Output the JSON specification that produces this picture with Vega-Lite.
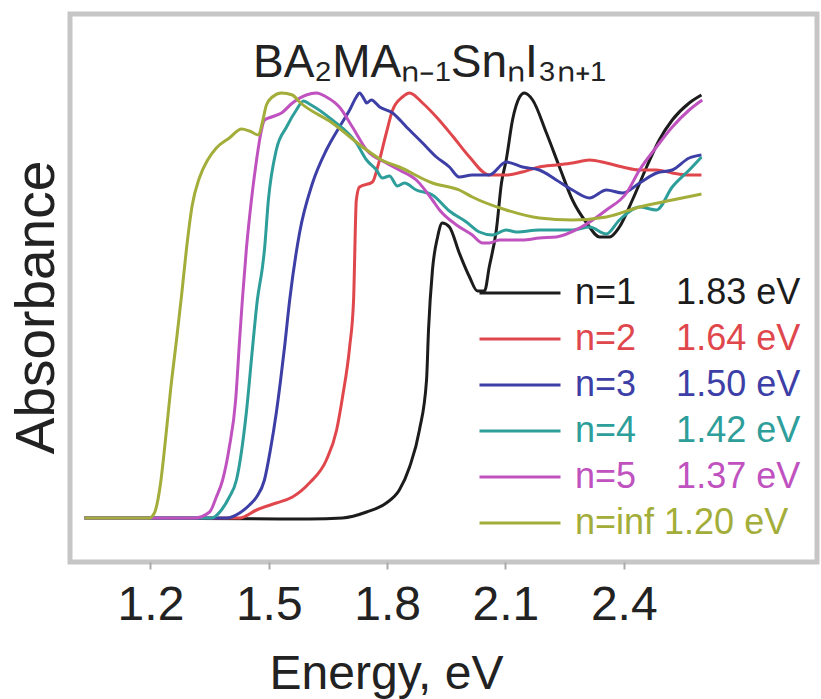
{
  "$schema": "https://vega.github.io/schema/vega-lite/v6.json",
  "width": 747,
  "height": 548,
  "autosize": {"type": "none"},
  "padding": {"left": 70, "top": 14, "right": 4, "bottom": 137},
  "background": "white",
  "config": {"view": {"stroke": "#c6c6c6", "strokeWidth": 5}, "font": "Liberation Sans"},
  "title": {
    "text": "BA\u2082MA\u2099\u208b\u2081Sn\u2099I\u2083\u2099\u208a\u2081",
    "fontSize": 46, "font": "Liberation Sans", "fontWeight": "normal", "color": "#222222",
    "anchor": "middle", "frame": "group", "offset": 0, "baseline": "alphabetic", "dy": 109, "dx": -14
  },
  "data": {"values": [
    {"n":"1","E":1.033,"A":0.088},{"n":"1","E":1.603,"A":0.086},{"n":"1","E":1.687,"A":0.088},{"n":"1","E":1.748,"A":0.100},{"n":"1","E":1.798,"A":0.118},{"n":"1","E":1.831,"A":0.144},{"n":"1","E":1.857,"A":0.190},{"n":"1","E":1.882,"A":0.264},{"n":"1","E":1.900,"A":0.364},{"n":"1","E":1.905,"A":0.464},{"n":"1","E":1.915,"A":0.584},{"n":"1","E":1.928,"A":0.650},{"n":"1","E":1.940,"A":0.678},{"n":"1","E":1.958,"A":0.670},{"n":"1","E":1.983,"A":0.618},{"n":"1","E":2.009,"A":0.570},{"n":"1","E":2.029,"A":0.542},{"n":"1","E":2.047,"A":0.542},{"n":"1","E":2.059,"A":0.590},{"n":"1","E":2.077,"A":0.664},{"n":"1","E":2.090,"A":0.758},{"n":"1","E":2.102,"A":0.804},{"n":"1","E":2.118,"A":0.884},{"n":"1","E":2.136,"A":0.930},{"n":"1","E":2.148,"A":0.938},{"n":"1","E":2.169,"A":0.924},{"n":"1","E":2.204,"A":0.858},{"n":"1","E":2.237,"A":0.790},{"n":"1","E":2.270,"A":0.724},{"n":"1","E":2.306,"A":0.678},{"n":"1","E":2.339,"A":0.650},{"n":"1","E":2.364,"A":0.650},{"n":"1","E":2.389,"A":0.670},{"n":"1","E":2.422,"A":0.724},{"n":"1","E":2.458,"A":0.790},{"n":"1","E":2.490,"A":0.844},{"n":"1","E":2.523,"A":0.884},{"n":"1","E":2.566,"A":0.918},{"n":"1","E":2.597,"A":0.934},

    {"n":"2","E":1.033,"A":0.088},{"n":"2","E":1.426,"A":0.088},{"n":"2","E":1.469,"A":0.104},{"n":"2","E":1.519,"A":0.118},{"n":"2","E":1.560,"A":0.130},{"n":"2","E":1.603,"A":0.158},{"n":"2","E":1.646,"A":0.204},{"n":"2","E":1.672,"A":0.264},{"n":"2","E":1.687,"A":0.330},{"n":"2","E":1.705,"A":0.430},{"n":"2","E":1.715,"A":0.524},{"n":"2","E":1.722,"A":0.724},{"n":"2","E":1.730,"A":0.750},{"n":"2","E":1.763,"A":0.760},{"n":"2","E":1.776,"A":0.790},{"n":"2","E":1.798,"A":0.858},{"n":"2","E":1.814,"A":0.904},{"n":"2","E":1.839,"A":0.930},{"n":"2","E":1.857,"A":0.938},{"n":"2","E":1.890,"A":0.918},{"n":"2","E":1.925,"A":0.890},{"n":"2","E":1.966,"A":0.852},{"n":"2","E":2.009,"A":0.810},{"n":"2","E":2.059,"A":0.774},{"n":"2","E":2.102,"A":0.774},{"n":"2","E":2.143,"A":0.780},{"n":"2","E":2.186,"A":0.790},{"n":"2","E":2.229,"A":0.794},{"n":"2","E":2.270,"A":0.798},{"n":"2","E":2.313,"A":0.804},{"n":"2","E":2.356,"A":0.798},{"n":"2","E":2.397,"A":0.790},{"n":"2","E":2.440,"A":0.784},{"n":"2","E":2.483,"A":0.784},{"n":"2","E":2.523,"A":0.778},{"n":"2","E":2.566,"A":0.774},{"n":"2","E":2.597,"A":0.774},

    {"n":"3","E":1.033,"A":0.088},{"n":"3","E":1.393,"A":0.088},{"n":"3","E":1.426,"A":0.098},{"n":"3","E":1.451,"A":0.114},{"n":"3","E":1.469,"A":0.130},{"n":"3","E":1.489,"A":0.164},{"n":"3","E":1.504,"A":0.224},{"n":"3","E":1.519,"A":0.298},{"n":"3","E":1.530,"A":0.364},{"n":"3","E":1.540,"A":0.430},{"n":"3","E":1.553,"A":0.524},{"n":"3","E":1.578,"A":0.658},{"n":"3","E":1.611,"A":0.758},{"n":"3","E":1.646,"A":0.824},{"n":"3","E":1.679,"A":0.870},{"n":"3","E":1.705,"A":0.904},{"n":"3","E":1.722,"A":0.930},{"n":"3","E":1.730,"A":0.938},{"n":"3","E":1.743,"A":0.924},{"n":"3","E":1.748,"A":0.918},{"n":"3","E":1.760,"A":0.924},{"n":"3","E":1.781,"A":0.910},{"n":"3","E":1.814,"A":0.898},{"n":"3","E":1.849,"A":0.870},{"n":"3","E":1.890,"A":0.838},{"n":"3","E":1.925,"A":0.810},{"n":"3","E":1.958,"A":0.790},{"n":"3","E":1.983,"A":0.770},{"n":"3","E":2.016,"A":0.774},{"n":"3","E":2.059,"A":0.774},{"n":"3","E":2.102,"A":0.800},{"n":"3","E":2.143,"A":0.790},{"n":"3","E":2.186,"A":0.784},{"n":"3","E":2.229,"A":0.764},{"n":"3","E":2.270,"A":0.744},{"n":"3","E":2.313,"A":0.728},{"n":"3","E":2.356,"A":0.744},{"n":"3","E":2.397,"A":0.738},{"n":"3","E":2.440,"A":0.758},{"n":"3","E":2.483,"A":0.778},{"n":"3","E":2.523,"A":0.784},{"n":"3","E":2.566,"A":0.808},{"n":"3","E":2.597,"A":0.814},

    {"n":"4","E":1.033,"A":0.088},{"n":"4","E":1.355,"A":0.088},{"n":"4","E":1.380,"A":0.104},{"n":"4","E":1.400,"A":0.130},{"n":"4","E":1.418,"A":0.164},{"n":"4","E":1.443,"A":0.298},{"n":"4","E":1.459,"A":0.430},{"n":"4","E":1.471,"A":0.524},{"n":"4","E":1.484,"A":0.590},{"n":"4","E":1.489,"A":0.624},{"n":"4","E":1.499,"A":0.724},{"n":"4","E":1.519,"A":0.824},{"n":"4","E":1.545,"A":0.870},{"n":"4","E":1.570,"A":0.904},{"n":"4","E":1.588,"A":0.922},{"n":"4","E":1.603,"A":0.916},{"n":"4","E":1.661,"A":0.884},{"n":"4","E":1.722,"A":0.838},{"n":"4","E":1.748,"A":0.804},{"n":"4","E":1.773,"A":0.784},{"n":"4","E":1.788,"A":0.768},{"n":"4","E":1.806,"A":0.772},{"n":"4","E":1.826,"A":0.752},{"n":"4","E":1.844,"A":0.758},{"n":"4","E":1.874,"A":0.744},{"n":"4","E":1.915,"A":0.734},{"n":"4","E":1.958,"A":0.702},{"n":"4","E":2.001,"A":0.680},{"n":"4","E":2.034,"A":0.660},{"n":"4","E":2.067,"A":0.654},{"n":"4","E":2.102,"A":0.664},{"n":"4","E":2.128,"A":0.660},{"n":"4","E":2.186,"A":0.664},{"n":"4","E":2.270,"A":0.664},{"n":"4","E":2.313,"A":0.670},{"n":"4","E":2.356,"A":0.656},{"n":"4","E":2.389,"A":0.684},{"n":"4","E":2.440,"A":0.710},{"n":"4","E":2.483,"A":0.704},{"n":"4","E":2.523,"A":0.750},{"n":"4","E":2.566,"A":0.784},{"n":"4","E":2.597,"A":0.810},

    {"n":"5","E":1.033,"A":0.088},{"n":"5","E":1.312,"A":0.088},{"n":"5","E":1.350,"A":0.100},{"n":"5","E":1.367,"A":0.130},{"n":"5","E":1.383,"A":0.164},{"n":"5","E":1.400,"A":0.230},{"n":"5","E":1.416,"A":0.324},{"n":"5","E":1.426,"A":0.444},{"n":"5","E":1.433,"A":0.524},{"n":"5","E":1.443,"A":0.624},{"n":"5","E":1.456,"A":0.724},{"n":"5","E":1.469,"A":0.804},{"n":"5","E":1.479,"A":0.854},{"n":"5","E":1.489,"A":0.884},{"n":"5","E":1.507,"A":0.890},{"n":"5","E":1.532,"A":0.898},{"n":"5","E":1.560,"A":0.918},{"n":"5","E":1.595,"A":0.934},{"n":"5","E":1.621,"A":0.938},{"n":"5","E":1.646,"A":0.930},{"n":"5","E":1.679,"A":0.910},{"n":"5","E":1.712,"A":0.870},{"n":"5","E":1.748,"A":0.824},{"n":"5","E":1.798,"A":0.798},{"n":"5","E":1.831,"A":0.784},{"n":"5","E":1.874,"A":0.764},{"n":"5","E":1.915,"A":0.724},{"n":"5","E":1.933,"A":0.704},{"n":"5","E":1.976,"A":0.674},{"n":"5","E":2.016,"A":0.654},{"n":"5","E":2.042,"A":0.638},{"n":"5","E":2.059,"A":0.638},{"n":"5","E":2.085,"A":0.644},{"n":"5","E":2.143,"A":0.644},{"n":"5","E":2.186,"A":0.648},{"n":"5","E":2.229,"A":0.650},{"n":"5","E":2.288,"A":0.668},{"n":"5","E":2.356,"A":0.704},{"n":"5","E":2.407,"A":0.738},{"n":"5","E":2.440,"A":0.784},{"n":"5","E":2.483,"A":0.830},{"n":"5","E":2.523,"A":0.870},{"n":"5","E":2.566,"A":0.904},{"n":"5","E":2.599,"A":0.924},

    {"n":"inf","E":1.033,"A":0.088},{"n":"inf","E":1.197,"A":0.088},{"n":"inf","E":1.210,"A":0.098},{"n":"inf","E":1.225,"A":0.154},{"n":"inf","E":1.238,"A":0.244},{"n":"inf","E":1.251,"A":0.344},{"n":"inf","E":1.266,"A":0.444},{"n":"inf","E":1.279,"A":0.534},{"n":"inf","E":1.291,"A":0.624},{"n":"inf","E":1.306,"A":0.714},{"n":"inf","E":1.324,"A":0.768},{"n":"inf","E":1.345,"A":0.804},{"n":"inf","E":1.367,"A":0.828},{"n":"inf","E":1.400,"A":0.848},{"n":"inf","E":1.431,"A":0.866},{"n":"inf","E":1.451,"A":0.862},{"n":"inf","E":1.474,"A":0.854},{"n":"inf","E":1.484,"A":0.880},{"n":"inf","E":1.494,"A":0.914},{"n":"inf","E":1.509,"A":0.930},{"n":"inf","E":1.532,"A":0.938},{"n":"inf","E":1.560,"A":0.934},{"n":"inf","E":1.578,"A":0.920},{"n":"inf","E":1.661,"A":0.878},{"n":"inf","E":1.748,"A":0.824},{"n":"inf","E":1.786,"A":0.804},{"n":"inf","E":1.831,"A":0.790},{"n":"inf","E":1.915,"A":0.758},{"n":"inf","E":1.983,"A":0.744},{"n":"inf","E":2.016,"A":0.730},{"n":"inf","E":2.102,"A":0.704},{"n":"inf","E":2.186,"A":0.688},{"n":"inf","E":2.270,"A":0.684},{"n":"inf","E":2.356,"A":0.690},{"n":"inf","E":2.440,"A":0.710},{"n":"inf","E":2.523,"A":0.724},{"n":"inf","E":2.597,"A":0.736}
  ]},
  "mark": {"type": "line", "strokeWidth": 3, "interpolate": "monotone"},
  "encoding": {
    "x": {
      "field": "E", "type": "quantitative",
      "scale": {"domain": [0.996, 2.89], "nice": false, "zero": false},
      "axis": {
        "values": [1.2, 1.5, 1.8, 2.1, 2.4], "format": ".1f", "grid": false, "domain": false,
        "labelFontSize": 48, "labelColor": "#222222", "labelFont": "Liberation Sans", "labelPadding": 12,
        "tickColor": "#aaaaaa", "tickSize": 7, "tickWidth": 2,
        "title": "Energy, eV", "titleFontSize": 48, "titleFontWeight": "normal", "titleColor": "#222222", "titleFont": "Liberation Sans",
        "titleX": 316, "titleY": 126, "titleBaseline": "alphabetic", "titleAlign": "center"
      }
    },
    "y": {
      "field": "A", "type": "quantitative",
      "scale": {"domain": [0, 1.096], "nice": false, "zero": false},
      "axis": {
        "labels": false, "ticks": false, "domain": false, "grid": false,
        "title": "Absorbance", "titleFontSize": 55, "titleFontWeight": "normal", "titleColor": "#222222", "titleFont": "Liberation Sans",
        "titleX": -17, "titleY": 293, "titleAngle": -90, "titleBaseline": "alphabetic", "titleAlign": "center"
      }
    },
    "color": {
      "field": "n", "type": "nominal",
      "scale": {"domain": ["1", "2", "3", "4", "5", "inf"], "range": ["#1c1c1c", "#e0474c", "#3d3fa6", "#2e9e9b", "#c052c0", "#a3ad3a"]},
      "legend": {
        "orient": "none", "legendX": 408, "legendY": 256, "title": null,
        "symbolType": "stroke", "symbolSize": 6561, "symbolStrokeWidth": 3,
        "labelFontSize": 36, "labelFont": "Liberation Sans", "labelOffset": 13, "labelLimit": 400,
        "clipHeight": 46, "rowPadding": 0, "padding": 0,
        "labelExpr": "{'1': 'n=1\u2007\u20071.83 eV', '2': 'n=2\u2007\u20071.64 eV', '3': 'n=3\u2007\u20071.50 eV', '4': 'n=4\u2007\u20071.42 eV', '5': 'n=5\u2007\u20071.37 eV', 'inf': 'n=inf 1.20 eV'}[datum.value]",
        "encode": {"labels": {"update": {"fill": {"scale": "color", "field": "value"}}}}
      }
    }
  }
}
